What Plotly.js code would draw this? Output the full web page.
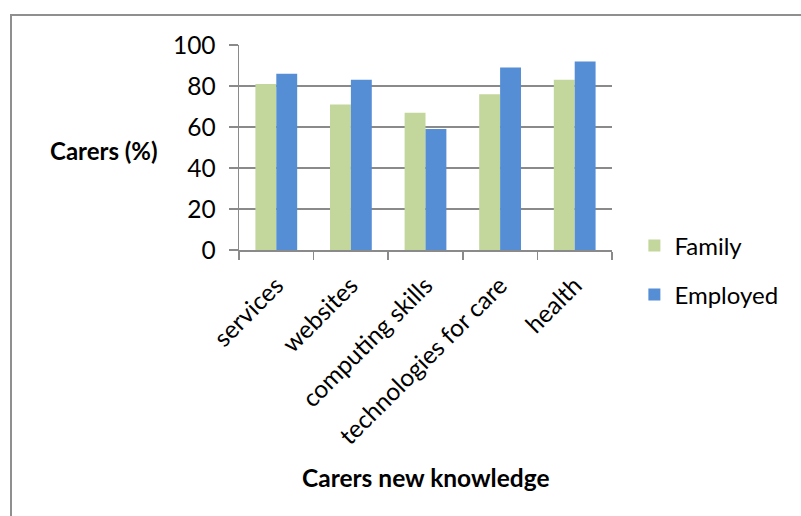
<!DOCTYPE html>
<html>
<head>
<meta charset="utf-8">
<script src="https://cdn.plot.ly/plotly-3.0.1.min.js"></script>
<style>
  html, body { margin: 0; padding: 0; width: 801px; height: 516px; overflow: hidden; background: #fff; }
  #wrap { position: relative; width: 801px; height: 516px; }
  #frame { position: absolute; left: 10px; top: 14px; width: 900px; height: 600px; border: 2px solid #8f8f8f; box-sizing: border-box; pointer-events: none; }
  #chart { position: absolute; left: 0; top: 0; width: 801px; height: 516px; }
</style>
</head>
<body>
<div id="wrap">
  <div id="chart"></div>
  <div id="frame"></div>
</div>
<script>
const categories = ["services", "websites", "computing skills", "technologies for care", "health"];
const familyValues = [81, 71, 67, 76, 83];
const employedValues = [86, 83, 59, 89, 92];
const seriesNames = ["Family", "Employed"];
const yTickValues = [0, 20, 40, 60, 80, 100];

const FONT = "Lato, 'Open Sans', sans-serif";
const GRID = "#8a8a8a";

const traces = [
  {
    type: "bar", name: seriesNames[0], x: categories, y: familyValues,
    marker: { color: "#c3d69b", line: { width: 0 } }, legend: "legend"
  },
  {
    type: "bar", name: seriesNames[1], x: categories, y: employedValues,
    marker: { color: "#558ed5", line: { width: 0 } }, legend: "legend2"
  }
];

const layout = {
  width: 801, height: 516,
  margin: { l: 239, r: 189, t: 45, b: 266, pad: 0 },
  paper_bgcolor: "rgba(0,0,0,0)", plot_bgcolor: "#fff",
  font: { family: FONT, size: 24, color: "#000" },
  barmode: "group", bargap: 0.44, bargroupgap: 0,
  showlegend: true,
  xaxis: {
    type: "category",
    showline: true, linecolor: GRID, linewidth: 1.5,
    ticks: "outside", tickson: "boundaries", ticklen: 8, tickcolor: GRID, tickwidth: 1.5,
    tickangle: -45, tickfont: { family: FONT, size: 24.5, color: "#000" }, ticklabelstandoff: 10,
    showgrid: false, zeroline: false, fixedrange: true
  },
  yaxis: {
    range: [0, 100], tickvals: yTickValues, ticktext: yTickValues.map(String),
    showline: true, linecolor: GRID, linewidth: 1.5,
    ticks: "outside", ticklen: 9, tickcolor: GRID, tickwidth: 1.5,
    showgrid: true, gridcolor: GRID, gridwidth: 1.5, zeroline: false,
    tickfont: { family: FONT, size: 24.5, color: "#000" }, ticklabelstandoff: 8,
    fixedrange: true
  },
  legend: {
    x: 1.06, xanchor: "left", y: 0.0195, yanchor: "middle",
    font: { family: FONT, size: 24, color: "#000" }, bgcolor: "rgba(0,0,0,0)"
  },
  legend2: {
    x: 1.06, xanchor: "left", y: -0.2195, yanchor: "middle",
    font: { family: FONT, size: 24, color: "#000" }, bgcolor: "rgba(0,0,0,0)"
  },
  annotations: [
    {
      text: "<b>Carers (%)</b>", xref: "paper", yref: "paper",
      x: -0.362, y: 0.483, xanchor: "center", yanchor: "middle",
      showarrow: false, font: { family: FONT, size: 24, color: "#000" }
    },
    {
      text: "<b>Carers new knowledge</b>", xref: "paper", yref: "paper",
      x: 0.5, y: -1.112, xanchor: "center", yanchor: "middle",
      showarrow: false, font: { family: FONT, size: 24.5, color: "#000" }
    }
  ]
};

Plotly.newPlot("chart", traces, layout, { displayModeBar: false, staticPlot: true });
</script>
</body>
</html>
